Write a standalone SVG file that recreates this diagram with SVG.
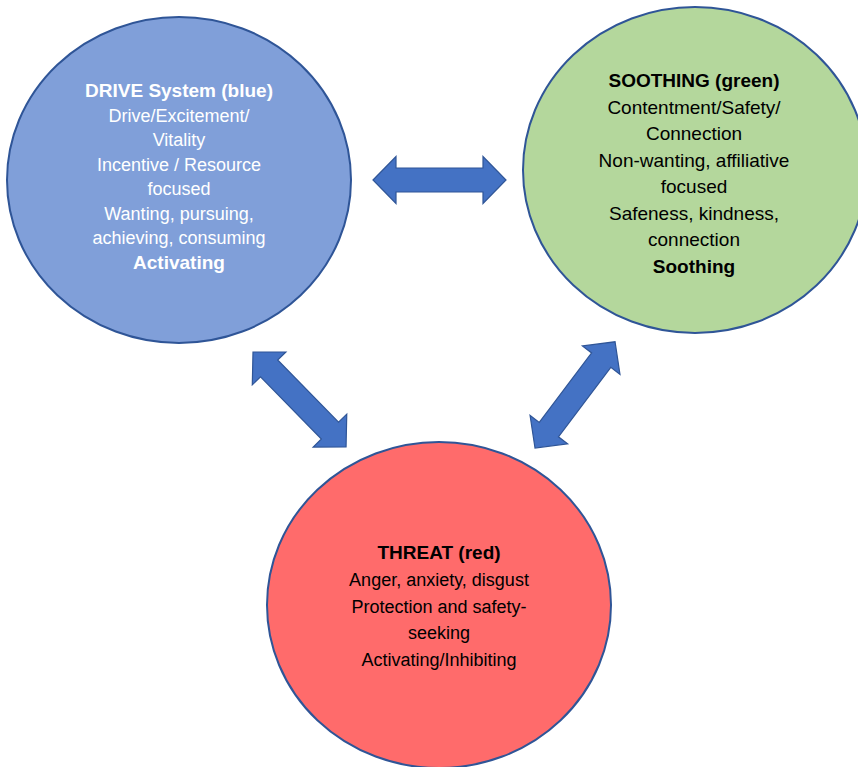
<svg xmlns="http://www.w3.org/2000/svg" width="858" height="767" viewBox="0 0 858 767">
<style>
.node ellipse{stroke:#2F5597;stroke-width:2}
.t{font-family:"Liberation Sans",Arial,sans-serif;text-anchor:middle}
.b{font-weight:bold;font-size:19px}
.r18{font-size:18px}
.r19{font-size:19px}
.w{fill:#FFFFFF}
.k{fill:#000000}
.arrow{fill:#4472C4;stroke:#2F5597;stroke-width:1.2;stroke-linejoin:miter}
</style>
<defs>
<polygon id="dbl" points="0,0 23,-23.5 23,-12 110,-12 110,-23.5 133,0 110,23.5 110,12 23,12 23,23.5"/>
</defs>
<rect width="858" height="767" fill="#FFFFFF"/>
<g id="drive" class="node">
<ellipse cx="179" cy="180" rx="172" ry="163" fill="#809FD9"/>
<text class="t b w" x="179" y="97">DRIVE System (blue)</text>
<text class="t r18 w" x="179" y="121.5">Drive/Excitement/</text>
<text class="t r18 w" x="179" y="146">Vitality</text>
<text class="t r18 w" x="179" y="170.5">Incentive / Resource</text>
<text class="t r18 w" x="179" y="195">focused</text>
<text class="t r18 w" x="179" y="219.5">Wanting, pursuing,</text>
<text class="t r18 w" x="179" y="244">achieving, consuming</text>
<text class="t b w" x="179" y="268.5">Activating</text>
</g>
<g id="soothing" class="node">
<ellipse cx="695" cy="170" rx="172" ry="163" fill="#B4D79C"/>
<text class="t b k" x="694" y="87">SOOTHING (green)</text>
<text class="t r19 k" x="694" y="113.5">Contentment/Safety/</text>
<text class="t r19 k" x="694" y="140">Connection</text>
<text class="t r19 k" x="694" y="166.5">Non-wanting, affiliative</text>
<text class="t r19 k" x="694" y="193">focused</text>
<text class="t r19 k" x="694" y="219.5">Safeness, kindness,</text>
<text class="t r19 k" x="694" y="246">connection</text>
<text class="t b k" x="694" y="272.5">Soothing</text>
</g>
<g id="threat" class="node">
<ellipse cx="439" cy="605" rx="172" ry="163" fill="#FF6B6B"/>
<text class="t b k" x="439" y="559">THREAT (red)</text>
<text class="t r18 k" x="439" y="586">Anger, anxiety, disgust</text>
<text class="t r18 k" x="439" y="612.5">Protection and safety-</text>
<text class="t r18 k" x="439" y="639">seeking</text>
<text class="t r18 k" x="439" y="665.5">Activating/Inhibiting</text>
</g>
<g id="connectors">
<use href="#dbl" class="arrow" transform="translate(373,180)"/>
<use href="#dbl" class="arrow" transform="translate(253,352) rotate(45.6)"/>
<use href="#dbl" class="arrow" transform="translate(535,448) rotate(-53)"/>
</g>
</svg>
